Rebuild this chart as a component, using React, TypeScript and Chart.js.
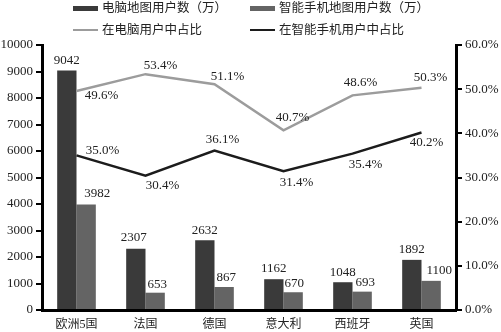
import React, { useEffect, useRef } from 'react';
import { Chart, registerables } from 'chart.js';

Chart.register(...registerables);

const categories = ['欧洲5国', '法国', '德国', '意大利', '西班牙', '英国'];
const pcMapUsers = [9042, 2307, 2632, 1162, 1048, 1892];
const mobileMapUsers = [3982, 653, 867, 670, 693, 1100];
const pcShare = [49.6, 53.4, 51.1, 40.7, 48.6, 50.3];
const mobileShare = [35.0, 30.4, 36.1, 31.4, 35.4, 40.2];

const seriesNames = ['电脑地图用户数（万）', '智能手机地图用户数（万）', '在电脑用户中占比', '在智能手机用户中占比'];
const colors = ['#3a3a3a', '#646464', '#9c9c9c', '#1c1c1c'];

// label offsets (dx, dy) relative to each mark
const labelOffsets: number[][][] = [
  [[0, -10], [-2, -11], [0, -10], [0, -11], [0, -10], [0, -10]],
  [[11, -11], [2, -8], [2, -9], [1, -9], [3, -9], [8, -10]],
  [[25, 5], [15, -9], [13, -8], [9, -13], [8, -13], [9, -10]],
  [[26, -5], [17, 10], [8, -11], [13, 11], [13, 11], [5, 10]],
];

const FONT = '"Liberation Serif", "Noto Sans CJK SC", serif';

const labelPlugin = {
  id: 'valueLabels',
  afterDatasetsDraw(chart: any) {
    const ctx = chart.ctx;
    ctx.save();
    ctx.font = `13px ${FONT}`;
    ctx.fillStyle = '#222';
    ctx.textAlign = 'center';
    ctx.textBaseline = 'middle';
    chart.data.datasets.forEach((ds: any, i: number) => {
      const meta = chart.getDatasetMeta(i);
      meta.data.forEach((el: any, j: number) => {
        const v = ds.data[j];
        const txt = ds.type === 'line' ? v.toFixed(1) + '%' : String(v);
        const [dx, dy] = labelOffsets[i][j];
        ctx.fillText(txt, el.x + dx, el.y + dy);
      });
    });
    ctx.restore();
  },
};

export default function App() {
  const ref = useRef<HTMLCanvasElement>(null);
  useEffect(() => {
    if (!ref.current) return;
    const chart = new Chart(ref.current, {
      type: 'bar',
      data: {
        labels: categories,
        datasets: [
          { type: 'bar', label: seriesNames[0], data: pcMapUsers, backgroundColor: colors[0], yAxisID: 'y', categoryPercentage: 0.56, barPercentage: 1, order: 2 } as any,
          { type: 'bar', label: seriesNames[1], data: mobileMapUsers, backgroundColor: colors[1], yAxisID: 'y', categoryPercentage: 0.56, barPercentage: 1, order: 2 } as any,
          { type: 'line', label: seriesNames[2], data: pcShare, borderColor: colors[2], borderWidth: 2.5, pointRadius: 0, tension: 0, yAxisID: 'y1', order: 1 } as any,
          { type: 'line', label: seriesNames[3], data: mobileShare, borderColor: colors[3], borderWidth: 2.5, pointRadius: 0, tension: 0, yAxisID: 'y1', order: 1 } as any,
        ],
      },
      options: {
        animation: false,
        responsive: true,
        maintainAspectRatio: false,
        layout: { padding: { top: 45, left: 0, right: 0, bottom: 0 } },
        plugins: { legend: { display: false }, tooltip: { enabled: false } },
        scales: {
          x: {
            grid: { display: true, drawOnChartArea: false, drawTicks: false },
            border: { display: true, width: 3, color: '#000' },
            ticks: { color: '#222', font: { family: FONT, size: 12 }, padding: 8 },
            afterFit: (s: any) => { s.height = 22; },
          },
          y: {
            position: 'left',
            min: 0,
            max: 10000,
            ticks: { stepSize: 1000, color: '#222', font: { family: FONT, size: 13 }, padding: 3, callback: (v: any) => String(v) },
            grid: { drawOnChartArea: false, drawTicks: true, tickLength: 6, color: '#000', lineWidth: 2 },
            border: { display: true, width: 3, color: '#000' },
            afterFit: (s: any) => { s.width = 42; },
          },
          y1: {
            position: 'right',
            min: 0,
            max: 60,
            ticks: { stepSize: 10, color: '#222', font: { family: FONT, size: 13 }, padding: 3, callback: (v: any) => Number(v).toFixed(1) + '%' },
            grid: { drawOnChartArea: false, drawTicks: true, tickLength: 6, color: '#000', lineWidth: 2 },
            border: { display: true, width: 3, color: '#000' },
            afterFit: (s: any) => { s.width = 45; },
          },
        },
      },
      plugins: [labelPlugin],
    } as any);
    return () => chart.destroy();
  }, []);

  const legendItem = (i: number, left: number, top: number, isLine: boolean) => (
    <div key={i} style={{ position: 'absolute', left, top, display: 'flex', alignItems: 'center', height: 14 }}>
      <span style={{ display: 'inline-block', width: 25, height: isLine ? 2.5 : 5, background: colors[i], marginRight: 4 }} />
      <span style={{ fontFamily: FONT, fontSize: 12.5, color: '#222', whiteSpace: 'nowrap', lineHeight: '14px' }}>{seriesNames[i]}</span>
    </div>
  );

  return (
    <div style={{ position: 'fixed', left: 0, top: 0, width: 501, height: 332, background: '#fff' }}>
      <div style={{ position: 'absolute', left: 0, top: 0, width: 501, height: 332 }}>
        <canvas ref={ref} />
      </div>
      {legendItem(0, 73, 1, false)}
      {legendItem(1, 250, 1, false)}
      {legendItem(2, 73, 23, true)}
      {legendItem(3, 250, 23, true)}
    </div>
  );
}
